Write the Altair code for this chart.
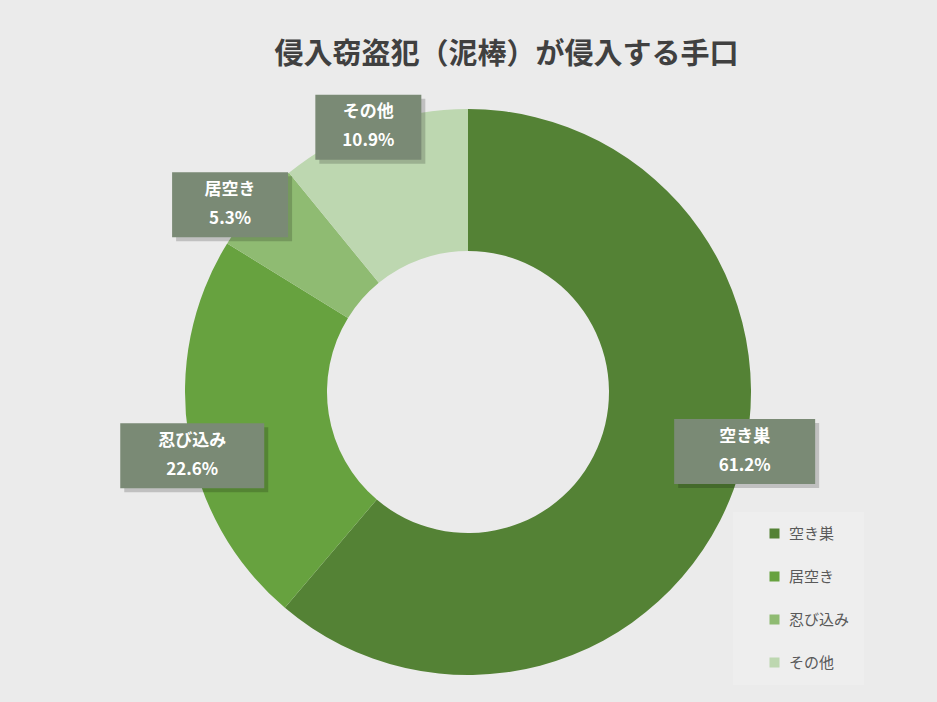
import math
import altair as alt
import pandas as pd

# ---- data ----
title_text = "侵入窃盗犯（泥棒）が侵入する手口"
categories = ["空き巣", "居空き", "忍び込み", "その他"]      # legend entries, slice order
values = [61.2, 22.6, 5.3, 10.9]                          # percent per slice
label_names = ["空き巣", "忍び込み", "居空き", "その他"]    # data-label names as shown on chart

# ---- style ----
colors = ["#548235", "#67a23f", "#8fbb72", "#bdd7b0"]
FONT = "Noto Sans CJK JP"
W, H = 937, 702
R_OUT, R_IN = 283, 141
CX, CY = 468, 392
label_shift_deg = [-8, -4, -3, -1]
label_r = [1.0, 1.0, 1.07, 1.0]
box_w = [141, 144, 116, 106]
box_h = 65
shadow = 4

xs = alt.Scale(domain=[-CX / R_OUT, (W - CX) / R_OUT], range=[0, W], nice=False, zero=False)
ys = alt.Scale(domain=[-(H - CY) / R_OUT, CY / R_OUT], range=[H, 0], nice=False, zero=False)

total = sum(values)
rows = []
cum = 0.0
for i, (c, v, ln) in enumerate(zip(categories, values, label_names)):
    mid = (cum + v / 2) / total * 360 + label_shift_deg[i]
    cum += v
    a = math.radians(mid)
    lx = label_r[i] * math.sin(a)
    ly = label_r[i] * math.cos(a)
    hw = box_w[i] / 2 / R_OUT
    hh = box_h / 2 / R_OUT
    so = shadow / R_OUT
    rows.append(dict(
        idx=i, category=c, value=v, name=ln, pct=f"{v:.1f}%", zero=0.0,
        lx=lx, ly=ly,
        bx1=lx - hw, bx2=lx + hw, by1=ly - hh, by2=ly + hh,
        sx1=lx - hw + so, sx2=lx + hw + so, sy1=ly - hh - so, sy2=ly + hh - so,
    ))
df = pd.DataFrame(rows)

base = alt.Chart(df)

arcs = base.mark_arc(radius=R_OUT, radius2=R_IN, stroke=None).encode(
    x=alt.X("zero:Q", scale=xs, axis=None),
    y=alt.Y("zero:Q", scale=ys, axis=None),
    theta=alt.Theta("value:Q", stack=True),
    order=alt.Order("idx:Q"),
    color=alt.Color(
        "category:N",
        scale=alt.Scale(domain=categories, range=colors),
        sort=categories,
        legend=alt.Legend(
            orient="none", legendX=733, legendY=512, title=None,
            fillColor="#eeeeee", padding=14,
            symbolType="square", symbolSize=100, symbolStrokeWidth=0, symbolOffset=20,
            labelFontSize=15, labelColor="#595959", labelFont=FONT, labelOffset=7,
            rowPadding=27,
        ),
    ),
)

shadows = base.mark_rect(color="#000000", opacity=0.18).encode(
    x=alt.X("sx1:Q", scale=xs, axis=None), x2="sx2:Q",
    y=alt.Y("sy1:Q", scale=ys, axis=None), y2="sy2:Q",
)
boxes = base.mark_rect(color="#7a8a75").encode(
    x=alt.X("bx1:Q", scale=xs, axis=None), x2="bx2:Q",
    y=alt.Y("by1:Q", scale=ys, axis=None), y2="by2:Q",
)
names = base.mark_text(font=FONT, fontSize=17, fontWeight="bold", color="#ffffff", dy=-15).encode(
    x=alt.X("lx:Q", scale=xs, axis=None), y=alt.Y("ly:Q", scale=ys, axis=None), text="name:N"
)
pcts = base.mark_text(font=FONT, fontSize=17, fontWeight="bold", color="#ffffff", dy=14).encode(
    x=alt.X("lx:Q", scale=xs, axis=None), y=alt.Y("ly:Q", scale=ys, axis=None), text="pct:N"
)

chart = alt.layer(arcs, shadows, boxes, names, pcts).properties(
    width=W, height=H,
    autosize=alt.AutoSizeParams(type="none"),
    padding=0,
    title=alt.TitleParams(
        title_text, font=FONT, fontSize=29, fontWeight="bold", color="#404040",
        anchor="middle", frame="group", offset=0, dx=38, dy=84, baseline="middle",
    ),
).configure(background="#ebebeb").configure_view(stroke=None)

chart.save("out.html", embed_options={"renderer": "svg", "actions": False})
